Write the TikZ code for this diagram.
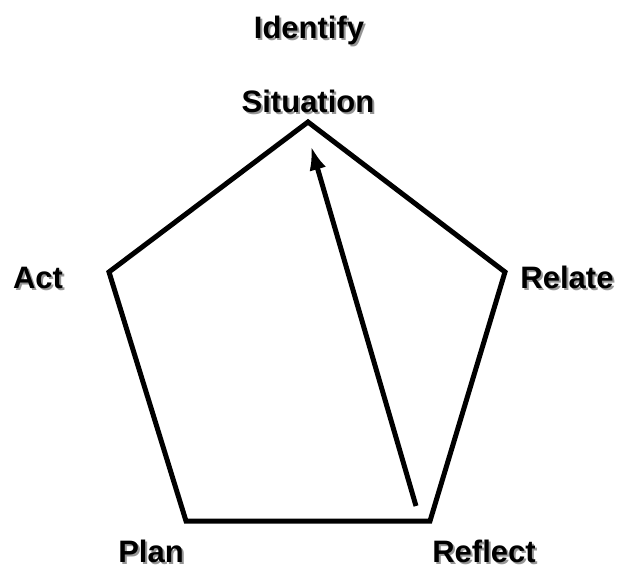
\documentclass[tikz,border=0pt]{standalone}
\usepackage{fontspec}
\setmainfont{Liberation Sans}
\usepackage{xcolor}
\usetikzlibrary{arrows.meta,positioning}
\definecolor{shadowgray}{RGB}{150,150,150}
\newcommand{\shadowed}[1]{\rlap{\hspace{2pt}\raisebox{-2pt}{\color{shadowgray}#1}}#1}
\tikzset{
  steplabel/.style={anchor=base, inner sep=0pt, font=\fontsize{31}{36}\selectfont\bfseries},
  edge/.style={line width=5pt, line join=miter, line cap=butt}
}

\begin{document}
\begin{tikzpicture}[x=1pt, y=-1pt, >=Latex]
      \useasboundingbox (0,0) rectangle (624,567);
      % corners of the pentagon
      \coordinate (sit) at (308,122);
      \coordinate (rel) at (505,272);
      \coordinate (refl) at (430,521);
      \coordinate (plan) at (186,521);
      \coordinate (act) at (109,272);
      \draw[edge] (sit) -- (rel) -- (refl) -- (plan) -- (act) -- cycle;
      % arrow back to the start
      \coordinate (tail) at (416,506);
      \coordinate (head) at (311,146);
      \draw[edge, -{Latex[length=24pt, width=17pt]}] (tail) -- (head);
      % labels
      \node[steplabel] (identify) at (309,39) {\shadowed{Identify}};
      \node[steplabel] (situation) at (308,113) {\shadowed{Situation}};
      \node[steplabel] (actlbl) at (38,288) {\shadowed{Act}};
      \node[steplabel] (relatelbl) at (567,288) {\shadowed{Relate}};
      \node[steplabel] (planlbl) at (151,562) {\shadowed{Plan}};
      \node[steplabel] (reflectlbl) at (484,562) {\shadowed{Reflect}};
    \end{tikzpicture}
\end{document}
